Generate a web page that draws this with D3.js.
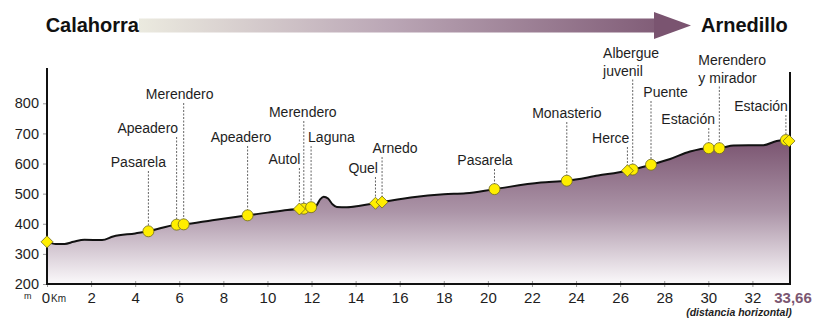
<!DOCTYPE html>
<html>
<head>
<meta charset="utf-8">
<script src="https://cdn.jsdelivr.net/npm/d3@7"></script>
<style>
  body { margin: 0; background: #fff; }
  svg { display: block; font-family: "Liberation Sans", Arial, sans-serif; }
</style>
</head>
<body>
<svg id="profile" width="816" height="320"></svg>
<script>
// elevation profile (km, metres)
const profileKm =   [0, 0.4, 0.8, 1.2, 1.7, 2.5, 3.0, 4.0, 4.6, 5.88, 6.2, 7.5, 9.1, 10.0, 10.9, 11.45, 11.65, 11.98, 12.2, 12.4, 12.55, 12.75, 12.95, 13.15, 13.6, 14.2, 14.9, 15.2, 16.5, 18.0, 19.0, 20.3, 22.4, 23.58, 25.0, 26.33, 26.57, 27.4, 28.27, 29.17, 30.02, 30.5, 31.14, 32.5, 33.1, 33.52, 33.66];
const profileElev = [340, 333, 333, 340, 347, 346, 358, 368, 375, 397, 398, 412, 428, 437, 446, 449, 450, 455, 459, 482, 490, 484, 465, 456, 455, 460, 468, 472, 487, 498, 501, 515, 537, 543, 560, 576, 580, 596, 615, 640, 651, 651, 660, 661, 675, 678, 675];

// points of interest along the route
const poiNames = [["Pasarela"], ["Apeadero"], ["Merendero"], ["Apeadero"], ["Autol"], ["Merendero"], ["Laguna"], ["Quel"], ["Arnedo"], ["Pasarela"], ["Monasterio"], ["Herce"], ["Albergue", "juvenil"], ["Puente"], ["Estación"], ["Merendero", "y mirador"], ["Estación"]];
const poiKm =    [4.6, 5.88, 6.2, 9.1, 11.45, 11.65, 11.98, 14.9, 15.2, 20.3, 23.58, 26.33, 26.57, 27.4, 30.02, 30.5, 33.52];
const poiElev =  [375, 397, 398, 428, 449, 450, 455, 468, 472, 515, 543, 576, 580, 596, 651, 651, 678];
const poiShape = ["c", "c", "c", "c", "d", "c", "c", "d", "d", "c", "c", "d", "c", "c", "c", "c", "c"];

// route ends (Calahorra, Arnedillo)
const endKm = [0, 33.66];
const endElev = [340, 675];

const kmTicks = [0, 2, 4, 6, 8, 10, 12, 14, 16, 18, 20, 22, 24, 26, 28, 30, 32];
const elevTicks = [200, 300, 400, 500, 600, 700, 800];
const totalKm = "33,66";

// label placement: [dx from marker, baseline of first line, anchor]
const labelLayout = [
    [-10, 167, "middle"], [1.5, 133, "end"], [-4, 99, "middle"], [-6.6, 142, "middle"],
    [1, 164, "end"], [-1, 117, "middle"], [-3, 142, "start"], [2.5, 173, "end"],
    [13, 153, "middle"], [-9.5, 165, "middle"], [0, 118, "middle"], [2, 143, "end"],
    [-29.6, 58, "start"], [14.5, 97, "middle"], [-20.6, 124, "middle"], [-21, 65, "start"],
    [2, 111, "end"]
];

const svg = d3.select("svg#profile");
const x0 = 47, x1 = 789, yBase = 284;

const x = d3.scaleLinear().domain([0, 33.66]).range([x0, x1]);
const y = d3.scaleLinear().domain([200, 800]).range([yBase, 103.3]);

const purple = "#7b5671",
    textColor = "#1e1e1e",
    markerFill = "#ffee00",
    markerStroke = "#6f6a20";

const defs = svg.append("defs");

// arrow gradient
const ag = defs.append("linearGradient").attr("id", "arrowGrad")
    .attr("gradientUnits", "userSpaceOnUse")
    .attr("x1", 139).attr("x2", 691).attr("y1", 0).attr("y2", 0);
ag.append("stop").attr("offset", 0).attr("stop-color", "#ebeadf");
ag.append("stop").attr("offset", 0.45).attr("stop-color", "#bba7b6");
ag.append("stop").attr("offset", 1).attr("stop-color", "#7a5470");

// area gradient
const fg = defs.append("linearGradient").attr("id", "fillGrad")
    .attr("gradientUnits", "userSpaceOnUse")
    .attr("x1", 0).attr("x2", 0).attr("y1", 140).attr("y2", yBase);
fg.append("stop").attr("offset", 0).attr("stop-color", "#7a5470");
fg.append("stop").attr("offset", 0.5).attr("stop-color", "#ac95a8");
fg.append("stop").attr("offset", 1).attr("stop-color", "#fbf9fb");

// Title arrow
svg.append("rect")
    .attr("x", 139).attr("y", 18.5).attr("width", 516).attr("height", 14)
    .attr("fill", "url(#arrowGrad)");
svg.append("path")
    .attr("d", "M654,12 L691,25.5 L654,39 Z")
    .attr("fill", "#7a5470");
svg.append("text").text("Calahorra")
    .attr("x", 139).attr("y", 32).attr("text-anchor", "end")
    .attr("font-size", 20).attr("font-weight", "bold").attr("fill", "#111");
svg.append("text").text("Arnedillo")
    .attr("x", 701).attr("y", 32)
    .attr("font-size", 20).attr("font-weight", "bold").attr("fill", "#111");

// Area + line
const pts = profileKm.map((k, i) => [k, profileElev[i]]);
const area = d3.area().x(d => x(d[0])).y0(yBase).y1(d => y(d[1])).curve(d3.curveMonotoneX);
const line = d3.line().x(d => x(d[0])).y(d => y(d[1])).curve(d3.curveMonotoneX);

svg.append("path").datum(pts).attr("d", area).attr("fill", "url(#fillGrad)");
svg.append("path").datum(pts).attr("d", line)
    .attr("fill", "none").attr("stroke", "#111").attr("stroke-width", 2);

// Axes
const xAxis = svg.append("g").attr("transform", `translate(0,${yBase})`)
    .call(d3.axisBottom(x).tickValues(kmTicks).tickSize(3).tickFormat(d => d));
xAxis.select(".domain").remove();
xAxis.selectAll(".tick line").attr("y1", -3).attr("y2", 3).attr("stroke", "#999");
xAxis.selectAll(".tick text")
    .attr("y", 19).attr("dy", 0)
    .attr("font-family", "'Liberation Sans Narrow', 'Arial Narrow', 'Liberation Sans', sans-serif")
    .attr("font-size", 15).attr("fill", textColor);
xAxis.selectAll(".tick").filter(d => d === 0).select("text").attr("dx", -1.5);

const yAxis = svg.append("g").attr("transform", `translate(${x0},0)`)
    .call(d3.axisLeft(y).tickValues(elevTicks).tickSize(4).tickPadding(4));
yAxis.select(".domain").remove();
yAxis.selectAll(".tick line").attr("stroke", "#999");
yAxis.selectAll(".tick text")
    .attr("font-family", "'Liberation Sans', Arial, sans-serif")
    .attr("font-size", 14.5).attr("fill", textColor);

svg.append("line")
    .attr("x1", x0).attr("x2", x0).attr("y1", 68).attr("y2", yBase + 1)
    .attr("stroke", "#111").attr("stroke-width", 2);
svg.append("line")
    .attr("x1", x0).attr("x2", x1 + 2).attr("y1", yBase).attr("y2", yBase)
    .attr("stroke", "#111").attr("stroke-width", 2);
svg.append("line")
    .attr("x1", x1 + 1).attr("x2", x1 + 1).attr("y1", 72).attr("y2", yBase + 1)
    .attr("stroke", "#111").attr("stroke-width", 2);

// Units and total distance
svg.append("text").text("m")
    .attr("x", 24).attr("y", 299).attr("font-size", 9).attr("fill", textColor);
svg.append("text").text("Km")
    .attr("x", 51).attr("y", 302).attr("font-size", 10).attr("fill", textColor);
svg.append("text").text(totalKm)
    .attr("x", 793).attr("y", 303).attr("text-anchor", "middle")
    .attr("font-size", 15).attr("font-weight", "bold").attr("fill", purple);
svg.append("text").text("(distancia horizontal)")
    .attr("x", 739).attr("y", 315.5).attr("text-anchor", "middle")
    .attr("font-family", "'Liberation Sans Narrow', 'Arial Narrow', 'Liberation Sans', sans-serif")
    .attr("font-size", 10.5).attr("font-style", "italic").attr("font-weight", "bold").attr("fill", textColor);

// Leader lines and labels
poiKm.forEach((k, i) => {
    const px = x(k), py = y(poiElev[i]);
    const [dx, bl, anchor] = labelLayout[i];
    const names = poiNames[i];
    const dashTop = bl + (names.length - 1) * 17.5 + 4;
    svg.append("line")
        .attr("x1", px).attr("x2", px).attr("y1", dashTop).attr("y2", py)
        .attr("stroke", "#555").attr("stroke-width", 0.9).attr("stroke-dasharray", "2,1.5");
    names.forEach((n, j) => {
        svg.append("text").text(n)
            .attr("x", px + dx).attr("y", bl + j * 17.5)
            .attr("text-anchor", anchor)
            .attr("font-size", 14).attr("fill", textColor);
    });
});

// Markers
function drawCircle(k, e) {
    svg.append("circle")
        .attr("cx", x(k)).attr("cy", y(e)).attr("r", 5.5)
        .attr("fill", markerFill).attr("stroke", markerStroke).attr("stroke-width", 0.8);
}
function drawDiamond(k, e) {
    const cx = x(k), cy = y(e), s = 6;
    svg.append("path")
        .attr("d", `M${cx},${cy - s} L${cx + s},${cy} L${cx},${cy + s} L${cx - s},${cy} Z`)
        .attr("fill", markerFill).attr("stroke", markerStroke).attr("stroke-width", 0.8);
}

poiKm.forEach((k, i) => { if (poiShape[i] === "c") drawCircle(k, poiElev[i]); });
poiKm.forEach((k, i) => { if (poiShape[i] === "d") drawDiamond(k, poiElev[i]); });
endKm.forEach((k, i) => drawDiamond(k, endElev[i]));
</script>
</body>
</html>
